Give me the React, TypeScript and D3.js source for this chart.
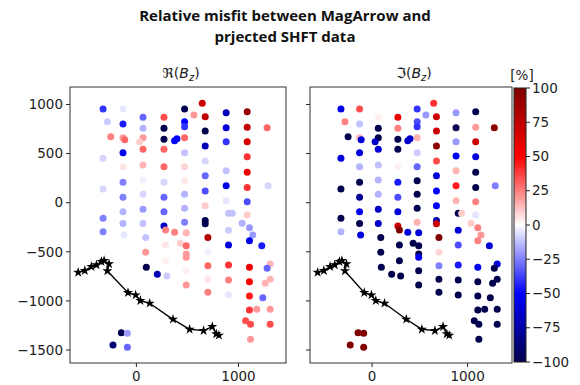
import React from 'react';
import * as d3 from 'd3';

// survey points (easting, northing in m)
const pointX = [-326,-284,-251,-326,-326,-326,-326,-131,-131,-131,-114,-131,-131,-131,-131,-131,-131,-120,-147,-88,-229,-88,
  65,65,65,32,65,65,65,65,65,65,91,91,97,205,299,
  270,270,270,270,270,270,270,270,270,286,374,286,430,286,
  472,563,472,472,472,374,397,472,472,472,472,472,472,488,488,488,488,488,488,
  645,674,674,674,674,674,674,674,674,674,700,700,700,700,700,
  879,879,879,879,879,879,879,902,938,902,902,902,902,902,
  1085,1085,1085,1085,1085,1085,1085,1085,1036,1107,1140,1107,1228,1107,1310,1280,1107,1310,1262,1107,1238,1107,1179,1310,1070,1118,1310,1118,
  1280,1290];
const pointY = [954,825,672,452,139,-159,-295,954,801,662,640,509,367,207,55,-91,-213,-329,-1323,-1330,-1449,-1472,
  869,757,662,621,543,384,231,85,-67,-213,-353,-505,-658,-729,-746,
  869,757,645,543,367,207,55,-91,-237,-278,-300,-431,-414,-590,
  954,893,825,774,662,631,650,509,367,224,85,-57,-200,-305,-437,-522,-556,-692,-838,
  1012,876,730,577,424,275,119,-30,-180,-215,-353,-505,-641,-780,-912,
  917,764,621,475,326,173,21,-108,-108,-281,-431,-634,-787,-940,
  927,767,621,469,309,156,10,-125,-210,-254,-329,-387,-437,-658,-624,-668,-804,-780,-821,-950,-967,-1092,-1086,-1086,-1201,-1238,-1238,-1391,
  764,173];
// relative misfit [%], real part
const reMisfit = [-40,-10,25,-8,-8,-25,-25,-5,-45,20,30,-55,5,-25,-25,-15,-15,-5,-100,-20,-90,-30,
  -30,-15,20,10,30,15,-3,-8,-20,-12,-12,20,-100,-70,-10,
  35,-100,-100,30,30,-8,-30,-30,-65,25,25,5,10,3,
  -100,20,-50,-40,30,-50,-50,-12,8,5,-15,-15,-25,15,30,20,20,3,20,
  70,75,-100,-70,-8,-30,-35,10,-100,-100,80,-3,30,5,25,
  -70,-60,-40,0,-12,-55,-5,-12,-12,-10,-60,40,25,-5,
  90,75,65,40,55,40,-35,10,-15,-20,-20,-55,-45,55,15,-30,50,15,15,45,-30,40,20,20,35,35,35,20,
  30,-8];
// relative misfit [%], imaginary part
const imMisfit = [-55,25,-100,-60,-100,-100,-15,35,-12,15,-60,-60,-15,-100,-80,-55,-100,-60,100,100,100,100,
  3,-100,-100,-65,-60,-12,-15,-15,-65,-65,-100,-100,-100,-100,-100,
  60,25,-100,-100,3,-45,-35,-60,70,100,-60,-100,-100,-100,
  -40,-20,-35,-40,15,-65,-65,-10,-30,-100,-100,-100,15,-60,-100,-100,-55,-100,-100,
  40,70,70,95,35,-60,-50,-50,-75,70,100,8,-25,-100,-100,
  -20,-100,-20,-55,15,45,15,-100,10,-60,-35,-45,-100,-100,
  -100,20,70,-60,-100,-100,25,-5,10,25,20,25,-60,-55,-60,-100,-100,-100,-100,-100,-100,-100,-100,-100,-100,-100,-100,-100,
  95,-25];
// flight path of the MagArrow
const pathX = [-570,-505,-440,-391,-342,-316,-268,-284,-82,-7,39,130,358,521,658,743,782,808];
const pathY = [-709,-692,-651,-634,-600,-590,-624,-695,-916,-940,-997,-1024,-1187,-1289,-1302,-1262,-1336,-1350];

const yTicks = [1000, 500, 0, -500, -1000, -1500];
const xTicks = [0, 1000];
const cbTicks = [100, 75, 50, 25, 0, -25, -50, -75, -100];
const titleLines = ['Relative misfit between MagArrow and', 'prjected SHFT data'];

const fmt = (v: number) => (v < 0 ? '\u2212' + Math.abs(v) : String(v));
const tickFont = 'DejaVu Sans, sans-serif';
const tickSize = 13.5;

export default function App() {
  const W = 580, H = 385;
  const top = 87, bottom = 363;
  const y = d3.scaleLinear().domain([-1632, 1178]).range([bottom, top]);
  const xL = d3.scaleLinear().domain([-650, 1465]).range([70, 286]);
  const xR = d3.scaleLinear().domain([-650, 1465]).range([310, 512]);
  const color = d3.scaleLinear<string>()
    .domain([-100, -50, 0, 50, 100])
    .range(['#00004c', '#0000ff', '#ffffff', '#ff0000', '#800000'])
    .clamp(true);
  const cbY = d3.scaleLinear().domain([-100, 100]).range([362, 88]);
  const star = d3.symbol().type(d3.symbolStar).size(32)();

  const panel = (x: d3.ScaleLinear<number, number>, vals: number[], showY: boolean, title: string, key: string) => {
    const line = d3.line<number>().x((_, i) => x(pathX[i])).y((_, i) => y(pathY[i]));
    const [x0, x1] = x.range();
    return (
      <g key={key}>
        {pointX.map((px, i) => (
          <circle key={i} cx={x(px)} cy={y(pointY[i])} r={3.5} fill={color(vals[i])} />
        ))}
        <path d={line(pathX) || ''} fill="none" stroke="#000" strokeWidth={1.4} />
        {pathX.map((px, i) => (
          <path key={'s' + i} d={star} transform={`translate(${x(px)},${y(pathY[i])})`} fill="#000" />
        ))}
        <rect x={x0} y={top} width={x1 - x0} height={bottom - top} fill="none" stroke="#333" strokeWidth={1} />
        {yTicks.map(t => (
          <g key={'y' + t}>
            <line x1={x0 - 4} x2={x0} y1={y(t)} y2={y(t)} stroke="#222" />
            {showY && (
              <text x={x0 - 7} y={y(t)} dy="0.35em" textAnchor="end" fontFamily={tickFont} fontSize={tickSize} fill="#222">{fmt(t)}</text>
            )}
          </g>
        ))}
        {xTicks.map(t => (
          <g key={'x' + t}>
            <line x1={x(t)} x2={x(t)} y1={bottom} y2={bottom + 4} stroke="#222" />
            <text x={x(t)} y={bottom + 18} textAnchor="middle" fontFamily={tickFont} fontSize={tickSize} fill="#222">{fmt(t)}</text>
          </g>
        ))}
        <text x={(x0 + x1) / 2 + 3} y={78} textAnchor="middle" fontFamily={tickFont} fontSize={14} fill="#222">
          {title}(<tspan fontStyle="italic">B</tspan><tspan fontStyle="italic" fontSize={10} dy={3}>z</tspan><tspan dy={-3}>)</tspan>
        </text>
      </g>
    );
  };

  const gradStops = d3.range(0, 1.0001, 0.05).map(t => ({ t, c: color(-100 + 200 * t) }));

  return (
    <svg width={W} height={H} style={{ position: 'absolute', left: 0, top: 0, background: '#fff' }}>
      <defs>
        <linearGradient id="cbGrad" x1="0" y1="1" x2="0" y2="0">
          {gradStops.map((s, i) => <stop key={i} offset={s.t} stopColor={s.c} />)}
        </linearGradient>
      </defs>
      <rect x={0} y={0} width={W} height={H} fill="#fff" />
      {titleLines.map((t, i) => (
        <text key={i} x={285} y={21 + i * 20.5} textAnchor="middle" fontFamily="'Open Sans', sans-serif" fontWeight="bold" fontSize={15} fill="#111">{t}</text>
      ))}
      {panel(xL, reMisfit, true, '\u211C', 'L')}
      {panel(xR, imMisfit, false, '\u2111', 'R')}
      <rect x={514} y={cbY(100)} width={12} height={cbY(-100) - cbY(100)} fill="url(#cbGrad)" stroke="#222" strokeWidth={1} />
      {cbTicks.map(t => (
        <g key={'c' + t}>
          <line x1={526} x2={530} y1={cbY(t)} y2={cbY(t)} stroke="#222" />
          <text x={532} y={cbY(t)} dy="0.35em" fontFamily={tickFont} fontSize={tickSize} fill="#222">{fmt(t)}</text>
        </g>
      ))}
      <text x={522} y={80} textAnchor="middle" fontFamily={tickFont} fontSize={tickSize} fill="#222">[%]</text>
    </svg>
  );
}
